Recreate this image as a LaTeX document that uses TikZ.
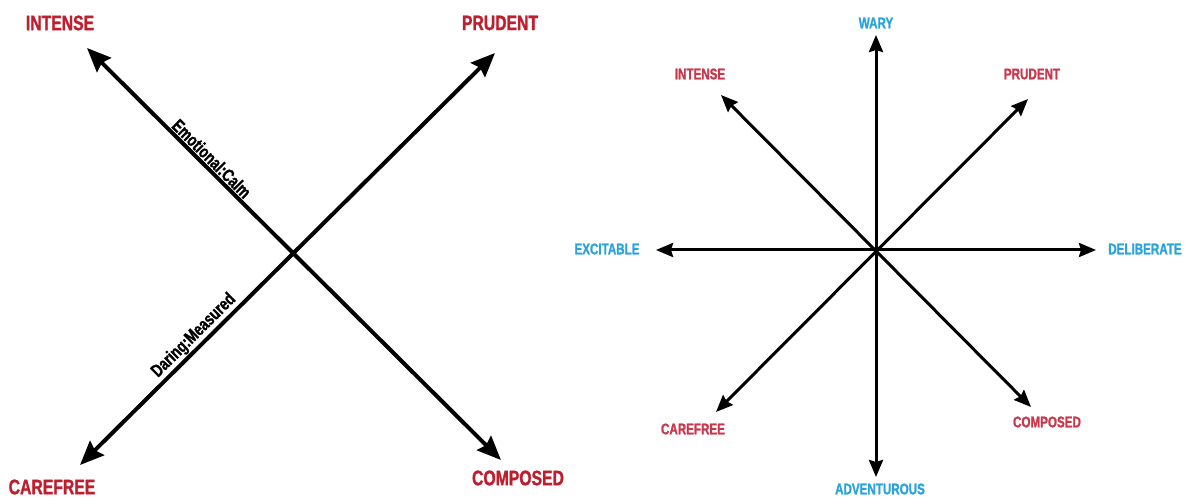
\documentclass[tikz,border=0pt]{standalone}
\usepackage{tikz}
\usetikzlibrary{arrows.meta}
\usepackage{fontspec}
\usepackage{xcolor}
\newfontfamily\condfont[FakeStretch=0.75, FakeBold=1.2]{Liberation Sans Bold}
\definecolor{leftred}{RGB}{190,30,45}
\definecolor{rightred}{RGB}{200,55,75}
\definecolor{rightblue}{RGB}{41,163,218}
\tikzstyle{bigword} = [inner sep=1pt, 
text=leftred, 
font=\condfont\fontsize{21}{21}\selectfont]
\tikzstyle{axisword} = [inner sep=1pt, 
text=black, 
font=\condfont\fontsize{18}{18}\selectfont]
\tikzstyle{redword} = [inner sep=1pt, 
text=rightred, 
font=\condfont\fontsize{15.5}{15.5}\selectfont]
\tikzstyle{blueword} = [inner sep=1pt, 
text=rightblue, 
font=\condfont\fontsize{15.5}{15.5}\selectfont]
\tikzstyle{bigarrow} = [line width=4pt, {Stealth[length=24pt, width=20pt, inset=3pt]}-{Stealth[length=24pt, width=20pt, inset=3pt]}]
\tikzstyle{arrow} = [line width=3pt, {Stealth[length=17pt, width=14pt, inset=2pt]}-{Stealth[length=17pt, width=14pt, inset=2pt]}]
\begin{document}
\begin{tikzpicture}[x=1pt, y=-1pt]
			\useasboundingbox (0,0) rectangle (1189,497);
			
			% left: two axes
			\node (intense) [bigword] at (60,23) {INTENSE};
			\node (prudent) [bigword] at (500,23) {PRUDENT};
			\node (carefree) [bigword] at (52,487) {CAREFREE};
			\node (composed) [bigword] at (518,478) {COMPOSED};
			
			\coordinate (intensetip) at (87,48);
			\coordinate (prudenttip) at (495,53);
			\coordinate (carefreetip) at (80,465);
			\coordinate (composedtip) at (501,460);
			
			\draw [bigarrow] (intensetip) -- node[axisword, sloped, above, pos=0.285] {Emotional:Calm} (composedtip);
			\draw [bigarrow] (carefreetip) -- node[axisword, sloped, above, pos=0.294] {Daring:Measured} (prudenttip);
			
			% right: eight directions
			\node (wary) [blueword] at (876,23) {WARY};
			\node (adventurous) [blueword] at (880,489) {ADVENTUROUS};
			\node (excitable) [blueword] at (607,249) {EXCITABLE};
			\node (deliberate) [blueword] at (1145,249) {DELIBERATE};
			\node (intense2) [redword] at (700,74) {INTENSE};
			\node (prudent2) [redword] at (1032,74) {PRUDENT};
			\node (carefree2) [redword] at (693,429) {CAREFREE};
			\node (composed2) [redword] at (1047,422) {COMPOSED};
			
			\coordinate (warytip) at (876,35);
			\coordinate (adventuroustip) at (876,477);
			\coordinate (excitabletip) at (656,250);
			\coordinate (deliberatetip) at (1096,250);
			\coordinate (intense2tip) at (721,95);
			\coordinate (prudent2tip) at (1028,99);
			\coordinate (carefree2tip) at (716,412);
			\coordinate (composed2tip) at (1031,407);
			
			\draw [arrow] (warytip) -- (adventuroustip);
			\draw [arrow] (excitabletip) -- (deliberatetip);
			\draw [arrow] (intense2tip) -- (composed2tip);
			\draw [arrow] (carefree2tip) -- (prudent2tip);
			
\end{tikzpicture}
\end{document}
